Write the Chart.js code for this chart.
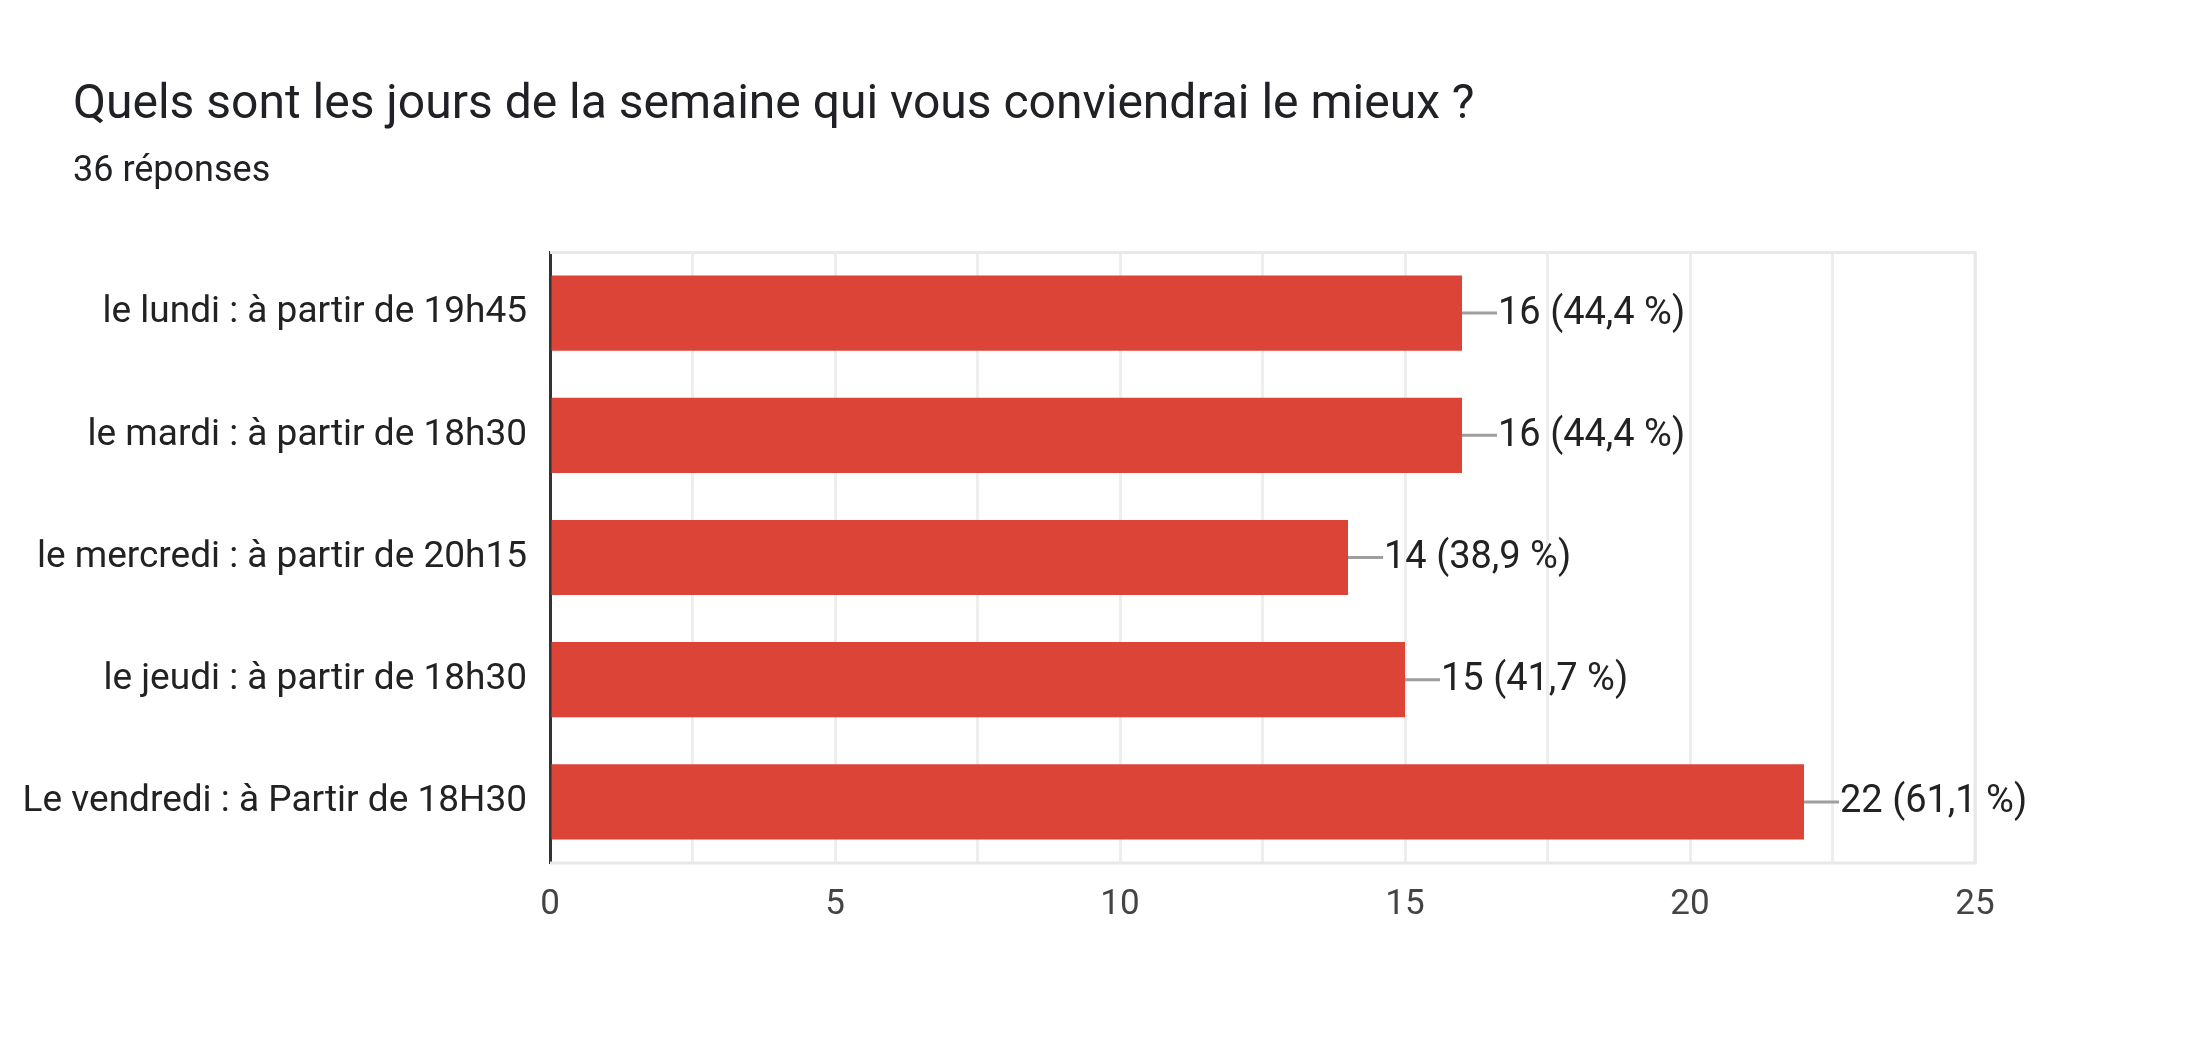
<!DOCTYPE html>
<html>
<head>
<meta charset="utf-8">
<script src="https://cdn.jsdelivr.net/npm/chart.js@4/dist/chart.umd.min.js"></script>
<style>
html,body{margin:0;padding:0;background:#ffffff;}
#wrap{position:relative;width:2196px;height:1044px;overflow:hidden;background:#fff;}
#c{position:absolute;left:0;top:0;}
#title{position:absolute;left:73px;top:78px;font-family:Roboto;font-size:48px;line-height:48px;color:#202124;white-space:nowrap;}
#sub{position:absolute;left:73px;top:151px;font-family:Roboto;font-size:36px;line-height:36px;color:#202124;white-space:nowrap;}
</style>
</head>
<body>
<div id="wrap">
<canvas id="c" width="2196" height="1044"></canvas>
<div id="title">Quels sont les jours de la semaine qui vous conviendrai le mieux ?</div>
<div id="sub">36 réponses</div>
</div>
<script>
const categories = [
  'le lundi : à partir de 19h45',
  'le mardi : à partir de 18h30',
  'le mercredi : à partir de 20h15',
  'le jeudi : à partir de 18h30',
  'Le vendredi : à Partir de 18H30'
];
const values = [16, 16, 14, 15, 22];
const percentLabels = ['44,4 %', '44,4 %', '38,9 %', '41,7 %', '61,1 %'];
const xTickLabels = [0, 5, 10, 15, 20, 25];

const framePlugin = {
  id: 'frame',
  beforeDatasetsDraw(chart) {
    const a = chart.chartArea, ctx = chart.ctx;
    ctx.save();
    ctx.strokeStyle = '#e8e8e8';
    ctx.lineWidth = 3;
    ctx.beginPath();
    ctx.moveTo(a.left, a.top + 0.5); ctx.lineTo(a.right + 1.5, a.top + 0.5);
    ctx.moveTo(a.right, a.top); ctx.lineTo(a.right, a.bottom);
    ctx.moveTo(a.left, a.bottom); ctx.lineTo(a.right + 1.5, a.bottom);
    ctx.stroke();
    ctx.restore();
  }
};

const valueLabelPlugin = {
  id: 'valueLabels',
  afterDatasetsDraw(chart) {
    const ctx = chart.ctx;
    const meta = chart.getDatasetMeta(0);
    ctx.save();
    meta.data.forEach((bar, i) => {
      const x = bar.x, y = bar.y;
      ctx.strokeStyle = '#9e9e9e';
      ctx.lineWidth = 3;
      ctx.beginPath();
      ctx.moveTo(x, y);
      ctx.lineTo(x + 35, y);
      ctx.stroke();
      ctx.fillStyle = '#222222';
      ctx.font = '38px Roboto';
      ctx.textAlign = 'left';
      ctx.textBaseline = 'middle';
      ctx.fillText(values[i] + ' (' + percentLabels[i] + ')', x + 36, y + 1);
    });
    ctx.restore();
  }
};

new Chart(document.getElementById('c'), {
  type: 'bar',
  data: {
    labels: categories,
    datasets: [{
      data: values,
      backgroundColor: '#db4437',
      borderWidth: 0,
      barPercentage: 0.615,
      categoryPercentage: 1
    }]
  },
  options: {
    indexAxis: 'y',
    responsive: false,
    animation: false,
    devicePixelRatio: 1,
    layout: { padding: { left: 0, right: 221, top: 252, bottom: 0 } },
    plugins: { legend: { display: false }, tooltip: { enabled: false }, title: { display: false } },
    scales: {
      x: {
        min: 0, max: 25,
        ticks: {
          stepSize: 2.5,
          autoSkip: false,
          maxRotation: 0,
          callback: (v) => xTickLabels.includes(v) ? String(v) : '',
          font: { family: 'Roboto', size: 35 },
          color: '#444444',
          padding: 21
        },
        grid: { color: '#eeeeee', lineWidth: 3, drawTicks: false },
        border: { display: false },
        afterFit: (s) => { s.height = 181; }
      },
      y: {
        ticks: { font: { family: 'Roboto', size: 37 }, color: '#222222', padding: 23 },
        grid: { display: false, drawTicks: false },
        border: { display: true, color: '#333333', width: 3 },
        afterFit: (s) => { s.width = 550; }
      }
    }
  },
  plugins: [framePlugin, valueLabelPlugin]
});
</script>
</body>
</html>
